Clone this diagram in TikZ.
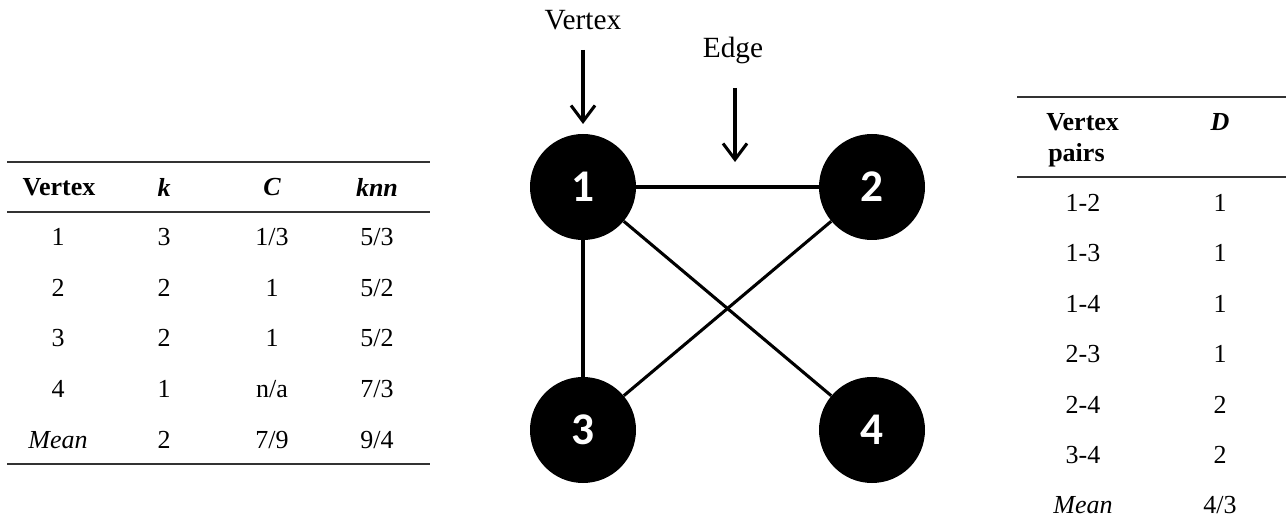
\documentclass[tikz,border=0pt]{standalone}
\usepackage{fontspec}
\setmainfont{Liberation Serif}
\newfontfamily\vfont{Carlito}
\usetikzlibrary{arrows.meta}
\begin{document}
\begin{tikzpicture}[x=0.75pt,y=-0.75pt,
  rulel/.style={line width=1pt, draw=black!80},
  cell/.style={font=\fontsize{19.5}{22}\selectfont, anchor=center, inner sep=0pt},
  hd/.style={cell, font=\fontsize{19.5}{22}\selectfont\bfseries},
  hdi/.style={cell, font=\fontsize{19.5}{22}\selectfont\bfseries\itshape},
  it/.style={cell, font=\fontsize{19.5}{22}\selectfont\itshape},
  vtx/.style={circle, fill=black, minimum size=106*0.75pt, inner sep=0pt, text=white, font=\vfont\fontsize{34}{36}\selectfont\bfseries},
  edge/.style={line width=2.3pt},
  lbl/.style={font=\fontsize{22}{24}\selectfont, inner sep=0pt},
  pointer/.style={line width=2.3pt, -{Straight Barb[length=12pt,width=18pt,line width=2.3pt]}}]
\useasboundingbox (0,0) rectangle (1286,527);
% left table
\draw[rulel] (7,162) -- (430,162);
\draw[rulel] (7,212) -- (430,212);
\draw[rulel] (7,464) -- (430,464);
\node[hd] (h1) at (59,187) {Vertex};
\node[hdi] (h2) at (164,187) {k};
\node[hdi] (h3) at (272,187) {C};
\node[hdi] (h4) at (377,187) {knn};
\foreach \r/\y/\a/\b/\c/\d in {1/237/1/3/1\slash 3/5\slash 3, 2/288/2/2/1/5\slash 2, 3/338/3/2/1/5\slash 2, 4/389/4/1/n\slash a/7\slash 3}{
  \node[cell] (l\r a) at (58,\y) {\a};
  \node[cell] (l\r b) at (164,\y) {\b};
  \node[cell] (l\r c) at (272,\y) {\c};
  \node[cell] (l\r d) at (377,\y) {\d};
}
\node[it] (lma) at (58,440) {Mean};
\node[cell] (lmb) at (164,440) {2};
\node[cell] (lmc) at (272,440) {7/9};
\node[cell] (lmd) at (377,440) {9/4};
% graph
\node[vtx] (n1) at (583,187) {1};
\node[vtx] (n2) at (872,187) {2};
\node[vtx] (n3) at (583,430) {3};
\node[vtx] (n4) at (872,430) {4};
\draw[edge] (n1) -- (n2);
\draw[edge] (n1) -- (n3);
\draw[edge] (n1) -- (n4);
\draw[edge] (n2) -- (n3);
\node[lbl] (vl) at (583,20) {Vertex};
\node[lbl] (el) at (733,50) {Edge};
\coordinate (va) at (583,50);
\coordinate (vb) at (583,124);
\coordinate (ea) at (735,88);
\coordinate (eb) at (735,162);
\draw[pointer] (va) -- (vb);
\draw[pointer] (ea) -- (eb);
% right table
\draw[rulel] (1017,97) -- (1286,97);
\draw[rulel] (1017,177) -- (1286,177);
\node[hd, anchor=west] (rh1) at (1046,122) {Vertex};
\node[hd, anchor=west] (rh2) at (1048,155) {pairs};
\node[hdi] (rh3) at (1220,122) {D};
\foreach \r/\y/\a/\b in {1/203/1-2/1, 2/253/1-3/1, 3/304/1-4/1, 4/354/2-3/1, 5/405/2-4/2, 6/455/3-4/2}{
  \node[cell] (r\r a) at (1083,\y) {\a};
  \node[cell] (r\r b) at (1220,\y) {\b};
}
\node[it] (rma) at (1083,505) {Mean};
\node[cell] (rmb) at (1220,505) {4/3};
\end{tikzpicture}
\end{document}
